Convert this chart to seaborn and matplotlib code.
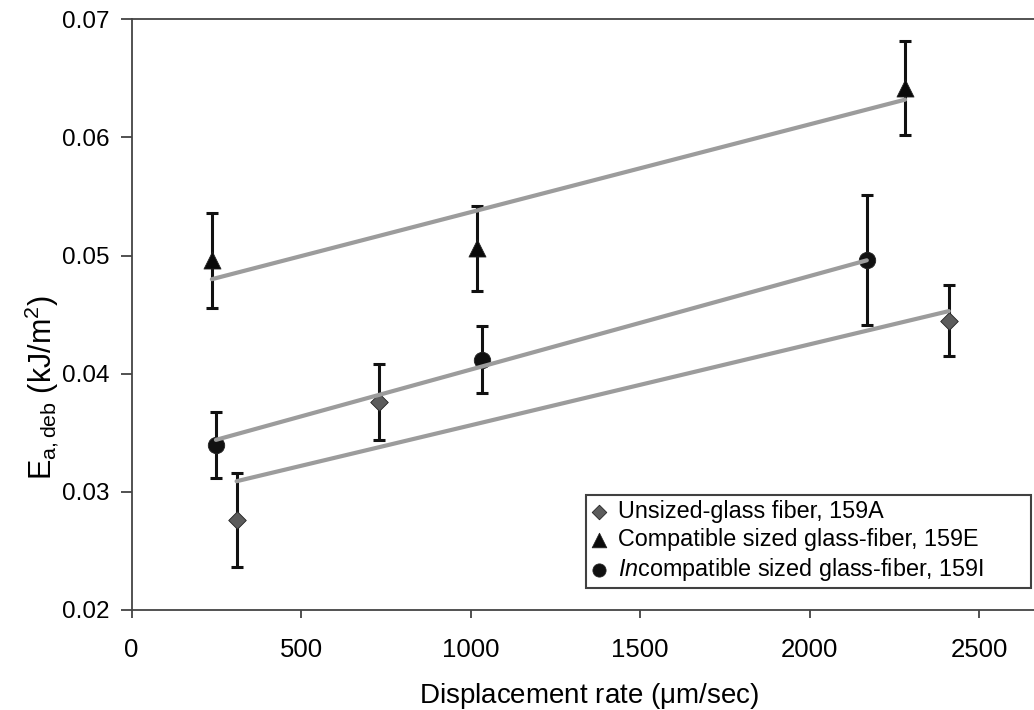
import matplotlib
matplotlib.use("Agg")
import matplotlib.pyplot as plt
import seaborn as sns
import pandas as pd

# ---- data ----
unsized_x = [310, 731, 2411]
unsized_y = [0.0276, 0.0376, 0.0445]
unsized_err = [0.0040, 0.0032, 0.0030]
unsized_fit_x = [310, 2411]
unsized_fit_y = [0.0309, 0.0453]

compat_x = [237, 1018, 2282]
compat_y = [0.0496, 0.0506, 0.0642]
compat_err = [0.0040, 0.0036, 0.0040]
compat_fit_x = [237, 2282]
compat_fit_y = [0.0480, 0.0632]

incompat_x = [249, 1033, 2169]
incompat_y = [0.0340, 0.0412, 0.0496]
incompat_err = [0.0028, 0.0028, 0.0055]
incompat_fit_x = [249, 2169]
incompat_fit_y = [0.0344, 0.0496]

labels = ["Unsized-glass fiber, 159A",
          "Compatible sized glass-fiber, 159E",
          r"$\it{In}$compatible sized glass-fiber, 159I"]
x_ticks = [0, 500, 1000, 1500, 2000, 2500]
y_ticks = [0.02, 0.03, 0.04, 0.05, 0.06, 0.07]
y_tick_labels = ["0.02", "0.03", "0.04", "0.05", "0.06", "0.07"]

sns.set_theme(style="white")
plt.rcParams["font.family"] = ["Liberation Sans", "DejaVu Sans"]
plt.rcParams["mathtext.fontset"] = "custom"
plt.rcParams["mathtext.rm"] = "Liberation Sans"
plt.rcParams["mathtext.it"] = "Liberation Sans:italic"
plt.rcParams["mathtext.bf"] = "Liberation Sans:bold"
plt.rcParams["text.color"] = "black"
plt.rcParams["axes.labelcolor"] = "black"
plt.rcParams["xtick.color"] = "black"
plt.rcParams["ytick.color"] = "black"

fig = plt.figure(figsize=(10.34, 7.10), dpi=100)
ax = fig.add_axes([131.5 / 1034, 100 / 710, (1034 - 131.5) / 1034, 590.7 / 710])

series = [
    (unsized_x, unsized_y, unsized_err, unsized_fit_x, unsized_fit_y, "D", "#5c5c5c", 80, labels[0], 55),
    (compat_x, compat_y, compat_err, compat_fit_x, compat_fit_y, "^", "#0a0a0a", 150, labels[1], 110),
    (incompat_x, incompat_y, incompat_err, incompat_fit_x, incompat_fit_y, "o", "#111111", 140, labels[2], 90),
]

for xs, ys, es, fx, fy, mk, col, sz, lab, lsz in series:
    ax.errorbar(xs, ys, yerr=es, fmt="none", ecolor="#111111", elinewidth=2.2,
                capsize=4, capthick=2.2, zorder=2)
    df = pd.DataFrame({"x": xs, "y": ys})
    sns.scatterplot(data=df, x="x", y="y", marker=mk, s=sz, color=col,
                    edgecolor="#222222", linewidth=0.6, ax=ax, zorder=3, label=lab)
    fdf = pd.DataFrame({"x": fx, "y": fy})
    sns.lineplot(data=fdf, x="x", y="y", color="#9c9c9c", linewidth=3.0,
                 ax=ax, zorder=4, legend=False)

ax.set_xlim(0, (1034 - 131.5) / 0.339)
ax.set_ylim(0.02, 0.07)
ax.set_xticks(x_ticks)
ax.set_xticklabels([str(v) for v in x_ticks], fontsize=18.5)
ax.set_yticks(y_ticks)
ax.set_yticklabels(y_tick_labels, fontsize=17.5)

for s in ["top", "left", "bottom"]:
    ax.spines[s].set_color("#444444")
    ax.spines[s].set_linewidth(1.3)
ax.spines["right"].set_visible(False)

ax.tick_params(axis="x", direction="out", length=6, width=1.2, color="#333333", pad=14, bottom=True)
ax.tick_params(axis="y", direction="out", length=8, width=1.2, color="#333333", pad=8, left=True)

ax.set_xlabel(r"Displacement rate ($\mathrm{\mu}$m/sec)", fontsize=20)
ax.xaxis.set_label_coords(0.507, (610 - 681) / 590.7)
ax.set_ylabel(r"E$_{\mathrm{a,deb}}$ (kJ/m$^{2}$)", fontsize=22)
ax.yaxis.set_label_coords(-0.100, (610 - 388) / 590.7)
ax.yaxis.label.set_va("center")

leg = ax.legend(loc="lower left",
                bbox_to_anchor=(586 / 1034, 122 / 710, 445 / 1034, 96 / 710),
                bbox_transform=fig.transFigure, mode="expand",
                frameon=True, fancybox=False,
                fontsize=16.8, handletextpad=0.45, handlelength=0.7,
                borderpad=0.2, labelspacing=0.22, borderaxespad=0)
leg.get_frame().set_edgecolor("#111111")
leg.get_frame().set_linewidth(1.5)
for h, (*_, lsz) in zip(leg.legend_handles, series):
    h.set_sizes([lsz])

fig.savefig("out.png", dpi=100)
